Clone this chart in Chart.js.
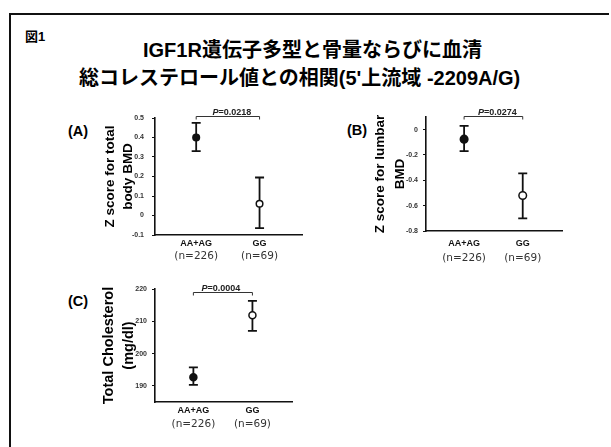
<!DOCTYPE html>
<html>
<head>
<meta charset="utf-8">
<script src="https://cdn.jsdelivr.net/npm/chart.js@4.4.0/dist/chart.umd.min.js"></script>
<style>
  html, body { margin: 0; padding: 0; background: #fff; }
  body { width: 611px; height: 447px; position: relative; overflow: hidden;
         font-family: "Liberation Sans", Arial, "Noto Sans CJK JP", sans-serif; color: #000; }
  .frame { position: absolute; left: 9px; top: 13px; width: 598px; height: 440px;
           border-left: 2px solid #111; border-top: 2px solid #111; }
  .fig { position: absolute; left: 25px; top: 30px; font-size: 13px; font-weight: bold; line-height: 1; }
  .t1, .t2 { position: absolute; font-size: 20px; font-weight: bold; white-space: nowrap; line-height: 1; }
  .t1 { left: 143px; top: 40px; }
  .t2 { left: 79px; top: 68px; }
  .lab { position: absolute; font-size: 14.5px; font-weight: bold; line-height: 1; }
  canvas { position: absolute; }
</style>
</head>
<body>
<div class="frame"></div>
<div class="fig">図1</div>
<div class="t1">IGF1R遺伝子多型と骨量ならびに血清</div>
<div class="t2">総コレステロール値との相関(5'上流域 -2209A/G)</div>
<div class="lab" style="left:68px;top:124px">(A)</div>
<div class="lab" style="left:347px;top:123px">(B)</div>
<div class="lab" style="left:68px;top:294px">(C)</div>

<script>
// Genotype groups and their sizes
const categories = ['AA+AG', 'GG'];
const sampleSizes = ['(n=226)', '(n=69)'];

// (A) Z score for total body BMD: mean and error-bar limits
const totalBodyMean = [0.40, 0.06];
const totalBodyLow  = [0.33, -0.065];
const totalBodyHigh = [0.475, 0.195];

// (B) Z score for lumbar BMD
const lumbarMean = [-0.075, -0.52];
const lumbarLow  = [-0.17, -0.70];
const lumbarHigh = [0.03, -0.345];

// (C) Total cholesterol (mg/dl)
const cholMean = [192.7, 211.9];
const cholLow  = [190.3, 207.0];
const cholHigh = [195.7, 216.3];

// Group comparison P values
const pValues = ['0.0218', '0.0274', '0.0004'];

// Y-axis tick labels
const totalBodyTicks = [-0.1, 0, 0.1, 0.2, 0.3, 0.4, 0.5];
const lumbarTicks = [-0.8, -0.6, -0.4, -0.2, 0];
const cholTicks = [190, 200, 210, 220];

const FONT = '"Liberation Sans", Arial, sans-serif';

function makePanel(cfg) {
  const cv = document.createElement('canvas');
  cv.width = cfg.w; cv.height = cfg.h;
  cv.style.left = cfg.left + 'px';
  cv.style.top = cfg.top + 'px';
  document.body.appendChild(cv);

  const points = categories.map((c, i) => ({ x: i + 1, y: cfg.mean[i] }));

  // vertical error bars with caps, drawn beneath the markers
  const errorBars = {
    id: 'errorBars',
    beforeDatasetsDraw(chart) {
      const { ctx, scales: { x, y } } = chart;
      ctx.save();
      ctx.strokeStyle = '#111';
      ctx.lineWidth = 1.8;
      categories.forEach((c, i) => {
        const px = x.getPixelForValue(i + 1);
        const top = y.getPixelForValue(cfg.high[i]);
        const bot = y.getPixelForValue(cfg.low[i]);
        ctx.beginPath();
        ctx.moveTo(px, top); ctx.lineTo(px, bot);
        ctx.moveTo(px - 4.5, top); ctx.lineTo(px + 4.5, top);
        ctx.moveTo(px - 4.5, bot); ctx.lineTo(px + 4.5, bot);
        ctx.stroke();
      });
      ctx.restore();
    }
  };

  // significance bracket, P value and two-line group labels
  const annotations = {
    id: 'annotations',
    afterDraw(chart) {
      const { ctx, chartArea, scales: { x, y } } = chart;
      const x1 = x.getPixelForValue(1), x2 = x.getPixelForValue(2);
      const yy = Math.round(y.getPixelForValue(cfg.bracket)) + 0.5;
      ctx.save();
      ctx.strokeStyle = '#333';
      ctx.lineWidth = 1;
      ctx.beginPath();
      ctx.moveTo(x1, yy + 3); ctx.lineTo(x1, yy); ctx.lineTo(x2, yy); ctx.lineTo(x2, yy + 3);
      ctx.stroke();

      ctx.fillStyle = '#222';
      ctx.textBaseline = 'alphabetic';
      ctx.textAlign = 'left';
      const rest = '=' + cfg.p;
      ctx.font = 'italic bold 9px ' + FONT;
      const wP = ctx.measureText('P').width;
      ctx.font = 'bold 9px ' + FONT;
      const wR = ctx.measureText(rest).width;
      const sx = (x1 + x2) / 2 + cfg.pShift - (wP + wR) / 2;
      ctx.font = 'italic bold 9px ' + FONT;
      ctx.fillText('P', sx, yy - 2);
      ctx.font = 'bold 9px ' + FONT;
      ctx.fillText(rest, sx + wP, yy - 2);

      ctx.textAlign = 'center';
      ctx.textBaseline = 'middle';
      categories.forEach((c, i) => {
        const px = x.getPixelForValue(i + 1);
        ctx.fillStyle = '#111';
        ctx.font = 'bold 9px ' + FONT;
        ctx.fillText(c, px, chartArea.bottom + cfg.catOff);
        ctx.fillStyle = '#333';
        ctx.font = '10.5px "DejaVu Sans", sans-serif';
        ctx.fillText(sampleSizes[i], px, chartArea.bottom + cfg.nOff);
      });
      ctx.restore();
    }
  };

  return new Chart(cv, {
    type: 'scatter',
    data: {
      datasets: [{
        data: points,
        pointRadius: cfg.r,
        pointBackgroundColor: ['#111', '#fff'],
        pointBorderColor: '#111',
        pointBorderWidth: 1.5,
        showLine: false
      }]
    },
    options: {
      responsive: false,
      animation: false,
      devicePixelRatio: 1,
      events: [],
      layout: { padding: { top: cfg.padTop, right: cfg.padRight, left: 0, bottom: 0 } },
      plugins: { legend: { display: false }, tooltip: { enabled: false } },
      scales: {
        x: {
          type: 'linear', min: 0.35, max: 2.67,
          grid: { display: false },
          ticks: { display: false },
          border: { display: true, color: '#111', width: 1.6 },
          afterFit: s => { s.height = cfg.xH; }
        },
        y: {
          type: 'linear', min: cfg.min, max: cfg.max,
          afterBuildTicks: s => { s.ticks = cfg.ticks.map(v => ({ value: v })); },
          ticks: {
            callback: v => String(v),
            font: { family: FONT, size: 7, weight: 'bold' },
            color: '#333',
            padding: cfg.tickPad
          },
          grid: { display: true, drawOnChartArea: false, drawTicks: true, tickLength: 3, color: '#111', lineWidth: 1 },
          border: { display: true, color: '#111', width: 1.6 },
          title: {
            display: true,
            text: cfg.yTitle,
            color: '#000',
            font: { family: FONT, size: cfg.titleSize, weight: 'bold', lineHeight: cfg.titleLH },
            padding: { top: cfg.titlePad, bottom: 0 }
          },
          afterFit: s => { s.width = cfg.yW; }
        }
      }
    },
    plugins: [errorBars, annotations]
  });
}

makePanel({
  left: 60, top: 100, w: 255, h: 170,
  yW: 95, padTop: 18, padRight: 13, xH: 35,
  min: -0.1, max: 0.5, ticks: totalBodyTicks, tickPad: 8,
  mean: totalBodyMean, low: totalBodyLow, high: totalBodyHigh, r: 3.3,
  yTitle: ['Z score for total', 'body BMD'], titleSize: 13.5, titleLH: 1.33, titlePad: 41,
  bracket: 0.512, p: pValues[0], pShift: 4,
  catOff: 9, nOff: 21
});

makePanel({
  left: 330, top: 100, w: 255, h: 170,
  yW: 96, padTop: 17, padRight: 23, xH: 39,
  min: -0.8, max: 0.1, ticks: lumbarTicks, tickPad: 5,
  mean: lumbarMean, low: lumbarLow, high: lumbarHigh, r: 3.8,
  yTitle: ['Z score for lumbar', 'BMD'], titleSize: 13.5, titleLH: 1.48, titlePad: 40,
  bracket: 0.11, p: pValues[1], pShift: 4,
  catOff: 13, nOff: 27
});

makePanel({
  left: 60, top: 278, w: 255, h: 169,
  yW: 95, padTop: 11, padRight: 23, xH: 45,
  min: 185, max: 220, ticks: cholTicks, tickPad: 5,
  mean: cholMean, low: cholLow, high: cholHigh, r: 3.5,
  yTitle: ['Total Cholesterol', '(mg/dl)'], titleSize: 14.5, titleLH: 1.38, titlePad: 39,
  bracket: 219.1, p: pValues[2], pShift: -2,
  catOff: 9, nOff: 22
});
</script>
</body>
</html>
